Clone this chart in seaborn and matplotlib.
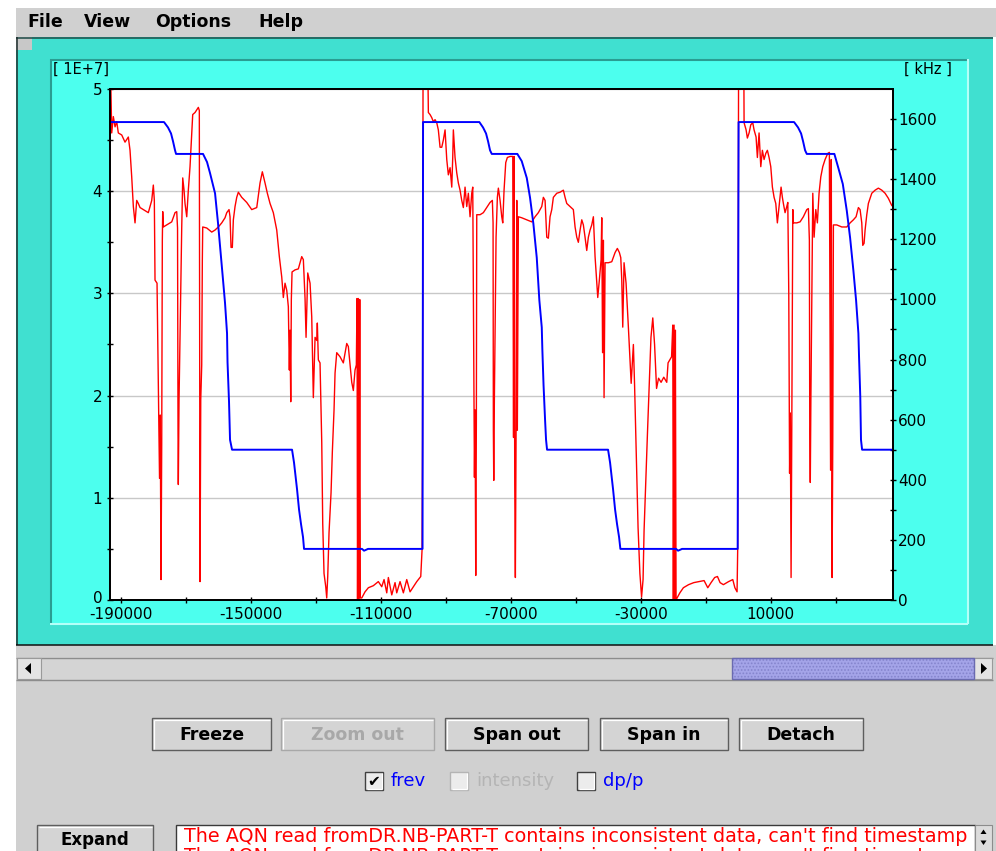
import numpy as np
import pandas as pd
import matplotlib
matplotlib.use("Agg")
import matplotlib.pyplot as plt
from matplotlib.patches import Rectangle, Polygon
from matplotlib.lines import Line2D
from matplotlib.ticker import FixedLocator
from matplotlib.transforms import ScaledTranslation
import seaborn as sns

# ---------------------------------------------------------------------------
# Data: beam intensity (left axis, units of 1E+7) and revolution frequency
# (right axis, kHz) versus time.  Time is listed in thousands.
# ---------------------------------------------------------------------------
intensity_time_k = [
    -193.2, -192.77, -192.28, -191.75, -191.23, -190.74, -189.69, -188.68, -187.66, -187.14,
    -186.62, -186.12, -185.6, -185.08, -184.59, -184.06, -183.05, -181.51, -180.46, -179.97,
    -179.66, -179.45, -178.83, -178.06, -177.85, -177.6, -177.39, -177.2, -177.08, -176.89,
    -175.85, -174.31, -173.29, -172.77, -172.52, -172.37, -172.28, -172.06, -171.23, -170.92,
    -170.52, -170.22, -169.69, -169.2, -168.68, -168.15, -167.85, -167.14, -166.12, -165.82,
    -165.6, -165.38, -165.08, -164.89, -164.77, -163.54, -162.0, -160.98, -159.97, -158.92,
    -157.91, -157.38, -156.68, -156.37, -156.06, -155.66, -155.35, -154.83, -154.31, -153.81,
    -152.77, -151.23, -149.69, -148.15, -147.14, -146.43, -145.6, -144.89, -144.06, -143.05,
    -142.0, -141.2, -140.46, -139.97, -139.45, -138.92, -138.43, -138.12, -137.91, -137.69,
    -137.51, -137.29, -136.37, -135.35, -134.31, -133.81, -133.29, -132.98, -132.46, -131.75,
    -131.23, -130.74, -130.21, -129.69, -129.51, -129.2, -128.68, -128.15, -127.85, -127.45,
    -126.92, -126.62, -126.31, -125.91, -125.29, -124.89, -124.37, -124.06, -123.54, -122.52,
    -121.51, -120.46, -119.97, -118.92, -118.43, -117.91, -117.51, -117.29, -117.14, -116.89,
    -116.68, -116.46, -116.28, -115.84, -114.83, -113.81, -112.28, -110.74, -109.69, -108.98,
    -108.15, -107.66, -106.61, -105.6, -105.08, -104.06, -103.04, -102.0, -100.98, -99.97,
    -98.92, -97.69, -97.29, -97.14, -96.98, -95.54, -95.35,
    -94.83, -94.31, -93.81, -93.29, -92.77, -92.28, -91.75, -91.23, -90.74, -90.21,
    -89.69, -89.2, -88.67, -88.15, -87.85, -87.66, -87.14, -86.62, -86.12, -85.6,
    -85.08, -84.58, -84.06, -83.54, -83.04, -82.52, -82.0, -81.69, -81.51, -81.17,
    -80.98, -80.77, -80.58, -80.46, -79.44, -78.43, -77.39, -76.37, -75.66, -75.44,
    -75.35, -75.23, -75.04, -74.52, -74.12, -73.81, -73.29, -72.77, -72.46, -72.06,
    -71.54, -71.04, -70.21, -69.38, -69.14, -68.98, -68.77, -68.58, -68.37, -68.15,
    -67.97, -67.66, -66.62, -65.07, -63.54, -62.52, -61.51, -60.46, -59.97, -59.44,
    -58.92, -58.43, -57.91, -57.38, -56.89, -55.84, -54.83, -53.81, -53.29, -52.77,
    -51.75, -50.74, -50.21, -49.69, -49.2, -48.67, -48.15, -47.66, -47.14, -46.62,
    -46.12, -45.6, -45.08, -44.58, -44.06, -43.54, -43.23, -42.74, -42.21, -42.0,
    -41.75, -41.5, -41.29, -40.98, -39.97, -38.92, -37.9, -37.2, -36.58, -36.15,
    -35.84, -35.54, -35.14, -34.52, -33.81, -33.29, -32.95, -32.58, -32.27, -31.9,
    -31.35, -30.83, -30.27, -29.75, -29.29, -28.98, -28.46, -27.94, -27.38, -26.86,
    -26.3, -25.75, -25.14, -24.52, -23.75, -22.92, -22.0, -21.6, -20.52, -20.15,
    -19.97, -19.75, -19.54, -19.35, -19.14, -18.83, -17.97, -16.89, -15.29, -13.69,
    -12.06, -10.52, -9.38, -8.37, -7.26, -6.4, -5.6, -4.58, -2.98, -1.69,
    -1.04, -0.37, -0.18, -0.06, 0.1, 1.7, 1.79,
    2.41, 2.8, 3.33, 3.85, 4.46, 4.86, 5.48, 5.88, 6.4, 6.93,
    7.42, 7.94, 8.47, 8.96, 9.48, 10.0, 10.5, 11.02, 11.54, 12.03,
    12.56, 13.17, 13.57, 13.88, 14.4, 14.93, 15.24, 15.54, 15.79, 16.01,
    16.25, 16.47, 16.78, 16.96, 18.0, 19.02, 20.03, 21.08, 21.57, 21.88,
    22.0, 22.16, 22.34, 22.93, 23.33, 23.85, 24.34, 24.86, 25.39, 26.0,
    26.71, 27.54, 28.03, 28.4, 28.62, 28.86, 29.08, 29.27, 30.31, 31.85,
    33.39, 34.41, 35.42, 36.25, 36.96, 37.48, 38.0, 38.31, 38.71, 39.02,
    39.54, 40.03, 41.08, 42.1, 43.11, 44.16, 45.17, 46.19, 47.23, 48.03,
]
intensity_1e7 = [
    5.3, 4.57, 4.73, 4.63, 4.68, 4.57, 4.55, 4.48, 4.53, 4.40,
    4.14, 3.85, 3.69, 3.91, 3.88, 3.84, 3.82, 3.79, 3.91, 4.06,
    3.91, 3.13, 3.10, 1.19, 1.81, 0.20, 1.52, 3.52, 3.80, 3.65,
    3.67, 3.70, 3.79, 3.80, 3.64, 1.63, 1.13, 1.96, 3.65, 4.13,
    4.01, 3.88, 3.75, 4.01, 4.24, 4.57, 4.75, 4.77, 4.82, 4.79,
    0.18, 1.96, 2.30, 3.33, 3.65, 3.64, 3.60, 3.62, 3.65, 3.69,
    3.74, 3.79, 3.82, 3.75, 3.45, 3.45, 3.72, 3.85, 3.94, 3.99,
    3.94, 3.89, 3.82, 3.84, 4.08, 4.19, 4.08, 3.98, 3.88, 3.79,
    3.62, 3.36, 3.16, 2.96, 3.10, 3.03, 2.87, 2.25, 2.64, 1.94,
    2.94, 3.21, 3.23, 3.24, 3.36, 3.33, 2.95, 2.57, 3.20, 3.10,
    2.77, 1.98, 2.57, 2.54, 2.71, 2.35, 2.32, 1.54, 0.75, 0.26,
    0.13, 0.02, 0.23, 0.66, 1.05, 1.45, 1.86, 2.22, 2.42, 2.38,
    2.32, 2.51, 2.48, 2.13, 2.05, 2.25, 2.30, 2.95, 0.0, 2.95,
    0.0, 2.94, 0.02, 0.02, 0.08, 0.12, 0.14, 0.18, 0.13, 0.20,
    0.07, 0.22, 0.05, 0.17, 0.07, 0.18, 0.07, 0.20, 0.08, 0.13,
    0.18, 0.23, 0.49, 1.55, 5.3, 5.3, 4.77,
    4.75, 4.72, 4.68, 4.70, 4.67, 4.60, 4.43, 4.43, 4.50, 4.60,
    4.31, 4.16, 4.23, 4.04, 4.33, 4.60, 4.33, 4.18, 4.08, 4.01,
    3.91, 3.84, 4.04, 3.85, 3.98, 3.75, 3.98, 4.04, 3.10, 1.20,
    1.86, 0.24, 1.76, 3.77, 3.77, 3.79, 3.84, 3.89, 3.91, 3.69,
    1.66, 1.17, 1.96, 3.55, 3.94, 4.03, 3.91, 3.75, 3.69, 4.01,
    4.28, 4.33, 4.34, 4.34, 1.59, 4.34, 1.13, 0.22, 1.57, 3.91,
    1.66, 3.75, 3.74, 3.72, 3.70, 3.75, 3.79, 3.85, 3.94, 3.91,
    3.55, 3.54, 3.75, 3.82, 3.94, 3.98, 3.99, 4.01, 3.94, 3.88,
    3.85, 3.82, 3.65, 3.55, 3.50, 3.62, 3.72, 3.67, 3.55, 3.42,
    3.55, 3.62, 3.67, 3.75, 3.36, 3.10, 2.96, 3.13, 3.33, 3.74,
    2.42, 3.52, 1.98, 3.30, 3.30, 3.31, 3.40, 3.44, 3.40, 3.35,
    3.13, 2.67, 3.30, 3.10, 2.67, 2.33, 2.12, 2.32, 2.50, 2.10,
    1.40, 0.71, 0.26, 0.03, 0.20, 0.68, 1.17, 1.63, 2.12, 2.57,
    2.76, 2.50, 2.07, 2.17, 2.13, 2.18, 2.13, 2.32, 2.38, 2.69,
    0.0, 2.69, 0.0, 2.64, 0.0, 0.02, 0.07, 0.12, 0.15, 0.17,
    0.18, 0.19, 0.12, 0.17, 0.22, 0.23, 0.17, 0.15, 0.18, 0.20,
    0.12, 0.08, 0.49, 2.54, 5.3, 5.3, 4.67,
    4.60, 4.52, 4.57, 4.65, 4.67, 4.60, 4.53, 4.33, 4.57, 4.24,
    4.40, 4.31, 4.37, 4.40, 4.33, 4.24, 4.04, 3.94, 3.88, 3.69,
    3.85, 4.04, 3.94, 3.88, 3.79, 3.85, 3.89, 3.00, 1.24, 1.83,
    0.22, 1.76, 3.82, 3.69, 3.69, 3.70, 3.75, 3.82, 3.83, 3.52,
    1.66, 1.15, 1.96, 3.98, 3.55, 3.82, 3.69, 3.98, 4.14, 4.24,
    4.31, 4.37, 4.38, 1.27, 4.31, 0.22, 1.57, 3.67, 3.67, 3.65,
    3.65, 3.69, 3.72, 3.75, 3.84, 3.82, 3.69, 3.47, 3.49, 3.62,
    3.77, 3.88, 3.98, 4.01, 4.03, 4.01, 3.98, 3.93, 3.86, 3.84,
]

frev_time_k = [
    -193.3, -176.68, -175.45, -174.52, -173.91, -173.29, -172.98, -164.68, -163.45, -162.52,
    -160.98, -160.06, -159.14, -158.52, -157.91, -157.29, -157.14, -156.68, -156.37, -155.75,
    -137.29, -136.68, -135.75, -135.14, -134.52, -133.91, -133.6, -115.75, -115.14, -114.52,
    -113.91, -97.14,
    -96.98, -79.66, -78.52, -77.6, -76.98, -76.37, -75.84, -67.97, -66.62, -65.07,
    -64.06, -63.04, -62.0, -61.2, -60.46, -60.27, -59.91, -59.44, -59.14, -58.83,
    -40.06, -39.44, -38.52, -37.9, -37.29, -36.67, -36.27, -19.14, -18.52, -17.91,
    -17.3, -0.18,
    0.1, 17.17, 18.4, 19.33, 19.94, 20.56, 21.08, 29.57, 30.8, 32.16,
    33.39, 34.41, 35.42, 36.25, 36.96, 37.17, 37.54, 37.76, 38.1, 48.0,
]
frev_khz = [
    1590, 1590, 1572, 1552, 1526, 1496, 1484, 1484, 1457, 1420,
    1353, 1253, 1140, 1064, 988, 887, 791, 659, 533, 500,
    500, 457, 368, 301, 252, 209, 170, 170, 164, 167,
    170, 170,
    1590, 1590, 1572, 1552, 1526, 1496, 1484, 1484, 1460, 1404,
    1338, 1252, 1139, 997, 907, 831, 715, 599, 533, 500,
    500, 457, 368, 301, 252, 209, 170, 170, 164, 167,
    170, 170,
    1590, 1590, 1572, 1552, 1526, 1496, 1484, 1484, 1437, 1384,
    1295, 1205, 1096, 997, 887, 805, 676, 533, 500, 500,
]

x_major_ticks = [-190000, -150000, -110000, -70000, -30000, 10000]
x_major_labels = ["-190000", "-150000", "-110000", "-70000", "-30000", "10000"]
x_minor_ticks = [-170000, -130000, -90000, -50000, -10000, 30000]
left_ticks = [0, 1, 2, 3, 4, 5]
left_labels = ["0", "1", "2", "3", "4", "5"]
left_minor = [0.5, 1.5, 2.5, 3.5, 4.5]
right_ticks = [0, 200, 400, 600, 800, 1000, 1200, 1400, 1600]
right_labels = ["0", "200", "400", "600", "800", "1000", "1200", "1400", "1600"]
right_minor = [100, 300, 500, 700, 900, 1100, 1300, 1500]

menu_items = [("File", 27), ("View", 84), ("Options", 155), ("Help", 258)]
buttons = [("Freeze", 152, 271, True), ("Zoom out", 281, 434, False),
           ("Span out", 445, 588, True), ("Span in", 600, 728, True),
           ("Detach", 739, 863, True)]
message = "The AQN read fromDR.NB-PART-T contains inconsistent data, can't find timestamp"

sns.set_style("white")
plt.rcParams['font.family'] = ['DejaVu Sans']

W, H = 996, 851
fig = plt.figure(figsize=(W / 100, H / 100), dpi=100)
fig.patch.set_facecolor('white')

TURQ = '#40e0d0'
CYAN = '#4cffee'
GREY = '#d0d0d0'


def fx(x):
    return x / W


def fy(y):
    return 1 - y / H


def box(x0, y0, x1, y1, fc, ec='none', lw=0.0, z=-10, **kw):
    r = Rectangle((fx(x0), fy(y1)), (x1 - x0) / W, (y1 - y0) / H,
                  transform=fig.transFigure, facecolor=fc, edgecolor=ec,
                  linewidth=lw, zorder=z, **kw)
    fig.add_artist(r)
    return r


def seg(xs, ys, color, lw=0.75, z=-5):
    fig.add_artist(Line2D([fx(v) for v in xs], [fy(v) for v in ys],
                          transform=fig.transFigure, color=color,
                          linewidth=lw, zorder=z, solid_capstyle='butt'))


def tri(points, color='black', z=-4):
    fig.add_artist(Polygon([(fx(a), fy(b)) for a, b in points], closed=True,
                           transform=fig.transFigure, facecolor=color,
                           edgecolor='none', zorder=z))


def label(x, y, s, **kw):
    kw.setdefault('va', 'center')
    return fig.text(fx(x), fy(y), s, **kw)


# ---- window chrome -------------------------------------------------------
box(16, 8, 996, 37, GREY)
for name, xpos in menu_items:
    label(xpos, 22, name, fontsize=12.5, fontweight='bold', color='black')

box(16, 37, 993, 645, TURQ)
seg([16, 993], [37.5, 37.5], '#1e4a46', lw=1.1)
seg([16.5, 16.5], [37, 645], '#1e2e2c', lw=1.1)
seg([16, 993], [644.5, 644.5], '#101010', lw=1.1)
box(16, 37, 32, 50, '#c8c8c8', z=-9)

box(50, 59, 968, 624, CYAN, z=-9)
seg([50, 968], [59.5, 59.5], '#2a9d92', lw=1.5, z=-8)
seg([51, 51], [59, 624], '#2a9d92', lw=1.5, z=-8)
seg([50, 968], [623.5, 623.5], '#b4fff8', lw=1.5, z=-8)
seg([967.5, 967.5], [59, 624], '#b4fff8', lw=1.5, z=-8)

label(53, 69, "[ 1E+7]", fontsize=10.5, color='black')
label(904, 69, "[ kHz ]", fontsize=10.5, color='black')

# lower control area
box(16, 645, 996, 851, GREY)

# horizontal scrollbar
box(16, 657, 993, 680, '#d4d4d4', z=-9)
seg([16, 993], [657.5, 657.5], '#8c8c8c', lw=1.0, z=-8)
seg([16, 993], [679.5, 679.5], '#8c8c8c', lw=1.0, z=-8)
box(17, 658, 41, 679, '#e4e4e4', ec='#9a9a9a', lw=0.8, z=-7)
tri([(25, 668.5), (31, 663), (31, 674)])
box(974, 658, 992, 679, '#e4e4e4', ec='#9a9a9a', lw=0.8, z=-7)
tri([(987, 668.5), (981, 663), (981, 674)])
plt.rcParams['hatch.linewidth'] = 0.8
box(732, 658, 974, 679, '#a4a4e8', ec='#8484cc', lw=0.0, z=-7, hatch='.....')
box(732, 658, 974, 679, 'none', ec='#6a6ab0', lw=1.0, z=-6)

# push buttons
for text, x0, x1, enabled in buttons:
    edge = '#5e5e5e' if enabled else '#a8a8a8'
    box(x0, 718, x1, 750, '#d4d4d4', ec=edge, lw=1.0, z=-7)
    seg([x0 + 1.5, x1 - 1.5], [719.8, 719.8], 'white', lw=0.9, z=-6)
    seg([x0 + 1.8, x0 + 1.8], [719.5, 748.5], 'white', lw=0.9, z=-6)
    label((x0 + x1) / 2, 734.5, text, ha='center', fontsize=12.5,
          fontweight='bold', color='black' if enabled else '#a8a8a8')

# check boxes
checks = [(365, "frev", '#0000ff', True, True),
          (450, "intensity", '#b4b4b4', False, False),
          (577, "dp/p", '#0000ff', False, True)]
for x0, text, col, ticked, enabled in checks:
    edge = '#404040' if enabled else '#b4b4b4'
    box(x0, 772, x0 + 18, 790, '#ececec', ec=edge, lw=1.0, z=-7)
    seg([x0 + 1.5, x0 + 17], [788.6, 788.6], 'white', lw=0.9, z=-6)
    seg([x0 + 16.6, x0 + 16.6], [773, 789], 'white', lw=0.9, z=-6)
    if ticked:
        label(x0 + 9, 781.5, "\u2714", ha='center', fontsize=11, color='black')
    label(x0 + 26, 781, text, fontsize=13, color=col)

# message area
box(37, 825, 153, 870, '#d4d4d4', ec='#5e5e5e', lw=1.0, z=-7)
seg([38.5, 151.5], [826.8, 826.8], 'white', lw=0.9, z=-6)
label(95, 840, "Expand", ha='center', fontsize=12, fontweight='bold', color='black')
area = box(176, 825, 975, 870, 'white', ec='#3a3a3a', lw=1.0, z=-7)
for yy in (837, 856):
    t = label(184, yy, message, fontsize=13.8, color='#ff0000')
    t.set_clip_path(area)
box(975, 825, 992, 870, '#dcdcdc', ec='#8c8c8c', lw=0.8, z=-7)
tri([(983.5, 829.5), (980.5, 834), (986.5, 834)])
tri([(983.5, 845), (980.5, 840.5), (986.5, 840.5)])

# ---- plot ---------------------------------------------------------------
intensity_df = pd.DataFrame({"t": np.array(intensity_time_k) * 1000.0,
                             "v": intensity_1e7})
frev_df = pd.DataFrame({"t": np.array(frev_time_k) * 1000.0, "f": frev_khz})

ax = fig.add_axes([fx(110), fy(600), (893.3 - 110) / W, (600 - 89) / H])
ax.set_facecolor('white')
sns.lineplot(data=intensity_df, x="t", y="v", ax=ax, color='#ff0000',
             linewidth=1.0, sort=False, estimator=None, legend=False)
ax2 = ax.twinx()
sns.lineplot(data=frev_df, x="t", y="f", ax=ax2, color='#0000ff',
             linewidth=1.4, sort=False, estimator=None, legend=False)

ax.set_xlim(-193300, 47700)
ax.set_ylim(0, 5)
ax2.set_ylim(0, 1700)
for a in (ax, ax2):
    a.set_xlabel("")
    a.set_ylabel("")
    for sp in a.spines.values():
        sp.set_visible(True)
        sp.set_color('black')
        sp.set_linewidth(1.3)

ax.yaxis.grid(True, which='major', color='#c8c8c8', linewidth=1.0)
ax.xaxis.grid(False)
ax.set_axisbelow(True)

ax.xaxis.set_major_locator(FixedLocator(x_major_ticks))
ax.set_xticklabels(x_major_labels)
ax.xaxis.set_minor_locator(FixedLocator(x_minor_ticks))
ax.yaxis.set_major_locator(FixedLocator(left_ticks))
ax.set_yticklabels(left_labels)
ax.yaxis.set_minor_locator(FixedLocator(left_minor))
ax2.yaxis.set_major_locator(FixedLocator(right_ticks))
ax2.set_yticklabels(right_labels)
ax2.yaxis.set_minor_locator(FixedLocator(right_minor))

ax.tick_params(axis='both', which='both', direction='inout', length=5,
               width=1.0, colors='black', labelsize=11)
ax.tick_params(axis='x', which='both', bottom=True, top=False, pad=2.5)
ax.tick_params(axis='y', which='both', left=True, right=False, pad=3)
ax.tick_params(axis='y', which='minor', labelleft=False)
ax2.tick_params(axis='y', which='both', direction='inout', length=5,
                width=1.0, colors='black', labelsize=11, right=True,
                left=False, pad=1)

# lift the corner "0" a touch so it clears the first time label
zero_label = ax.get_yticklabels()[0]
zero_label.set_transform(zero_label.get_transform()
                         + ScaledTranslation(0, 2.5 / 72, fig.dpi_scale_trans))

fig.savefig("out.png", dpi=100)
